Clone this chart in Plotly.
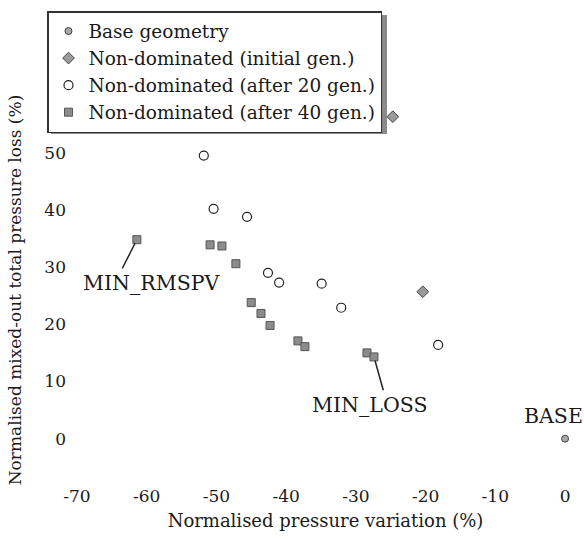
import plotly.graph_objects as go

# ---- data ----
base_x = [0.0]
base_y = [0.0]

init_x = [-24.7, -20.4]
init_y = [56.3, 25.7]

gen20_x = [-51.8, -50.4, -45.6, -42.6, -41.0, -34.9, -32.1, -18.2]
gen20_y = [49.5, 40.2, 38.8, 29.0, 27.3, 27.1, 22.9, 16.4]

gen40_x = [-61.4, -50.9, -49.2, -47.2, -45.0, -43.6, -42.3, -38.3, -37.3, -28.4, -27.4]
gen40_y = [34.8, 33.9, 33.7, 30.6, 23.8, 21.9, 19.8, 17.1, 16.1, 15.0, 14.3]

x_ticks = [-70, -60, -50, -40, -30, -20, -10, 0]
y_ticks = [0, 10, 20, 30, 40, 50]

FONT = "DejaVu Serif"
TXT = "#1a1a1a"

fig = go.Figure()
fig.add_trace(go.Scatter(x=base_x, y=base_y, mode="markers", name="Base geometry",
                         marker=dict(symbol="circle", size=7, color="#a8a8a8",
                                     line=dict(color="#444", width=1))))
fig.add_trace(go.Scatter(x=init_x, y=init_y, mode="markers", name="Non-dominated (initial gen.)",
                         marker=dict(symbol="diamond", size=9, color="#9a9a9a",
                                     line=dict(color="#444", width=1))))
fig.add_trace(go.Scatter(x=gen20_x, y=gen20_y, mode="markers", name="Non-dominated (after 20 gen.)",
                         marker=dict(symbol="circle", size=9, color="white",
                                     line=dict(color="#222", width=1.2))))
fig.add_trace(go.Scatter(x=gen40_x, y=gen40_y, mode="markers", name="Non-dominated (after 40 gen.)",
                         marker=dict(symbol="square", size=8, color="#8c8c8c",
                                     line=dict(color="#555", width=1))))

# labelled designs
ann_font = dict(family=FONT, size=20.5, color=TXT)
fig.add_annotation(x=gen40_x[0], y=gen40_y[0], ax=-63.6, ay=29.5, axref="x", ayref="y",
                   text="", showarrow=True, arrowhead=0, arrowwidth=1.5, arrowcolor="#222", standoff=4)
fig.add_annotation(x=-59.3, y=27.3, text="MIN_RMSPV", showarrow=False, font=ann_font)
fig.add_annotation(x=gen40_x[-1], y=gen40_y[-1], ax=-26.0, ay=8.2, axref="x", ayref="y",
                   text="", showarrow=True, arrowhead=0, arrowwidth=1.5, arrowcolor="#222", standoff=4)
fig.add_annotation(x=-28.0, y=5.9, text="MIN_LOSS", showarrow=False, font=ann_font)
fig.add_annotation(x=-1.7, y=4.0, text="BASE", showarrow=False, font=ann_font)

L, R, T, B = 72, 5, 107, 66
pw, ph = 584 - L - R, 539 - T - B


def px_to_paper(px, py):
    return (px - L) / pw, 1 + (T - py) / ph


# grey drop shadow behind the legend box
sx0, sy0 = px_to_paper(51, 15)
sx1, sy1 = px_to_paper(387, 134)
fig.add_shape(type="rect", xref="paper", yref="paper", x0=sx0, y0=sy1, x1=sx1, y1=sy0,
              fillcolor="#8a8a8a", line=dict(width=0), layer="above")

fig.update_layout(
    width=584, height=539,
    margin=dict(l=L, r=R, t=T, b=B, autoexpand=False),
    paper_bgcolor="white", plot_bgcolor="white",
    font=dict(family=FONT, size=17, color=TXT),
    showlegend=True,
    legend=dict(x=(47 - L) / pw, y=1 + (T - 11) / ph,
                xanchor="left", yanchor="top",
                bgcolor="white", bordercolor="#333", borderwidth=1.5,
                font=dict(family=FONT, size=18.5, color=TXT),
                tracegroupgap=0, itemwidth=30),
    xaxis=dict(range=[-70.7, 2], tickvals=x_ticks, ticktext=[str(v) for v in x_ticks],
               showgrid=False, zeroline=False, showline=False, ticks="",
               ticklabelstandoff=11, tickangle=0,
               tickfont=dict(family=FONT, size=17, color=TXT),
               title=dict(text="Normalised pressure variation (%)", standoff=9,
                          font=dict(family=FONT, size=18, color=TXT))),
    yaxis=dict(range=[-6, 58], tickvals=y_ticks, ticktext=[str(v) for v in y_ticks],
               showgrid=False, zeroline=False, showline=False, ticks="",
               ticklabelstandoff=5,
               tickfont=dict(family=FONT, size=17, color=TXT),
               title=dict(text="Normalised mixed-out total pressure loss (%)", standoff=18,
                          font=dict(family=FONT, size=17, color=TXT))),
)

fig.write_html("out.html")
